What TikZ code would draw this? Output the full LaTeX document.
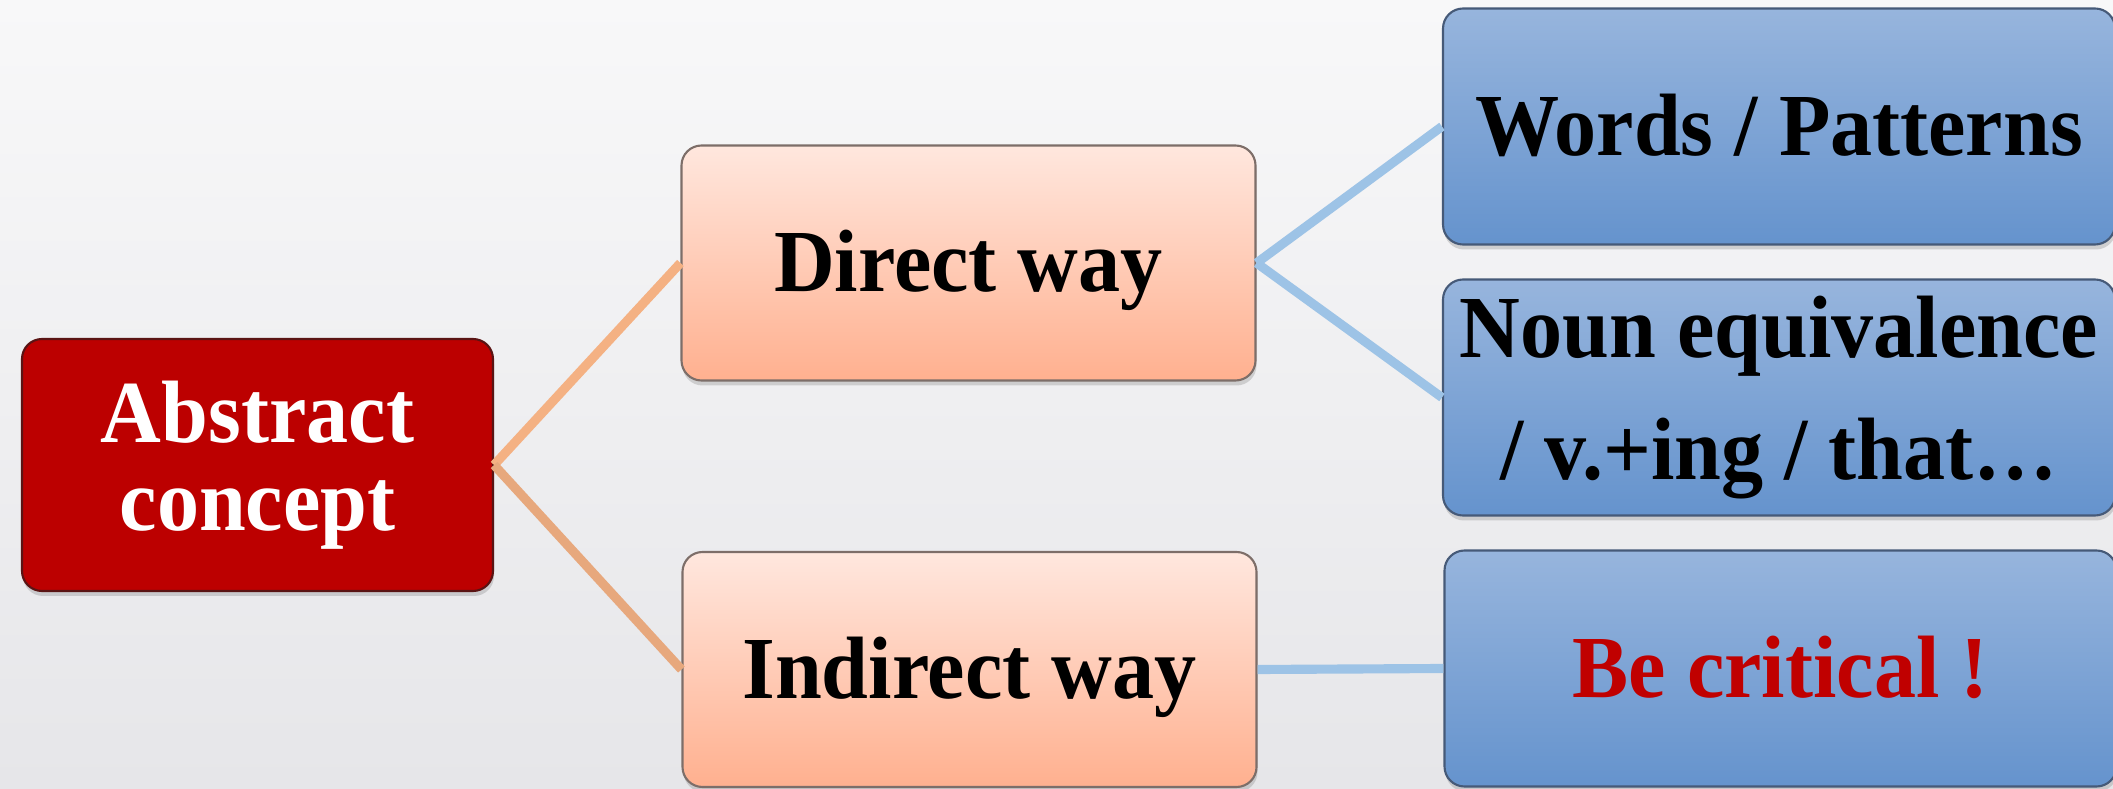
\documentclass[tikz,border=0pt]{standalone}
\usepackage{fontspec}
\setmainfont{Liberation Serif}[FakeStretch=0.95]
\usepackage{xcolor}
\usetikzlibrary{positioning,shadows}

\definecolor{bgtop}{RGB}{248,248,249}
\definecolor{bgbot}{RGB}{230,230,233}
\definecolor{rootred}{RGB}{188,0,0}
\definecolor{rootedge}{RGB}{90,20,20}
\definecolor{peachtop}{RGB}{255,231,222}
\definecolor{peachbot}{RGB}{255,176,143}
\definecolor{peachedge}{RGB}{125,110,105}
\definecolor{bluetop}{RGB}{151,181,221}
\definecolor{bluebot}{RGB}{101,147,205}
\definecolor{blueedge}{RGB}{70,90,120}
\definecolor{linkorange}{RGB}{244,177,131}
\definecolor{linkorangedk}{RGB}{231,168,125}
\definecolor{linkblue}{RGB}{157,195,230}
\definecolor{critred}{RGB}{192,0,0}

\begin{document}
\begin{tikzpicture}
\tikzstyle{box}=[rounded corners=0.2cm, line width=0.6pt, inner sep=0pt,
  font=\bfseries\fontsize{25.2}{25.2}\selectfont,
  drop shadow={shadow xshift=0.01cm, shadow yshift=-0.05cm, opacity=0.3}]
\tikzstyle{one}=[text height=0.58cm, text depth=0pt]
\tikzstyle{root}=[box, draw=rootedge, fill=rootred, text=white, align=center,
  minimum width=4.71cm, minimum height=2.52cm]
\tikzstyle{way}=[box, one, draw=peachedge, top color=peachtop, bottom color=peachbot,
  minimum width=5.74cm, minimum height=2.35cm]
\tikzstyle{leaf}=[box, draw=blueedge, top color=bluetop, bottom color=bluebot,
  minimum width=6.72cm, minimum height=2.36cm]
\tikzstyle{olink}=[line width=2.6pt, draw=linkorange]
\tikzstyle{blink}=[line width=2.6pt, draw=linkblue]

% background
\fill[top color=bgtop, bottom color=bgbot] (0,0) rectangle (21.13,7.88);
\useasboundingbox (0,0) rectangle (21.13,7.88);

\node[root] (abs) at (2.575,3.23) {Abstract\\concept};
\node[way] (dir) at (9.685,5.25) {Direct way};
\node[way] (ind) at (9.695,1.185) {Indirect way};

\node[leaf, one] (wrd) at (17.79,6.615) {Words / Patterns};
\node[leaf, align=center, font=\bfseries\fontsize{25.2}{34.7}\selectfont] (nou) at (17.79,3.905) {Noun equivalence\\/ v.+ing / that…};
\node[leaf, one, text=critred] (bec) at (17.805,1.195) {Be critical !};

\draw[olink] (abs.east) -- (dir.west);
\draw[olink, draw=linkorangedk] (abs.east) -- (ind.west);
\draw[blink] (dir.east) -- (wrd.west);
\draw[blink] (dir.east) -- (nou.west);
\draw[blink] (ind.east) -- (bec.west);
\end{tikzpicture}
\end{document}
